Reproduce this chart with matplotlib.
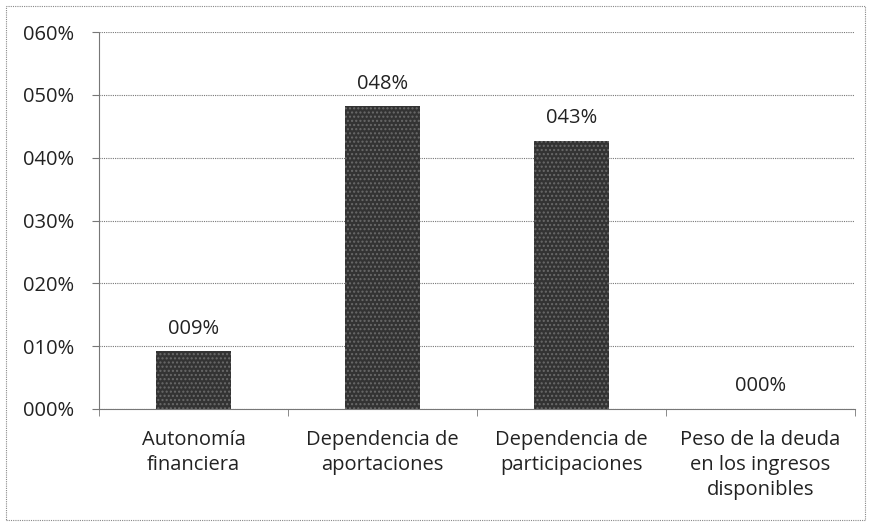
import numpy as np
import matplotlib.pyplot as plt
from matplotlib.patches import Rectangle

plt.rcParams['font.family'] = ['Open Sans', 'DejaVu Sans']

categories = ['Autonomía\nfinanciera', 'Dependencia de\naportaciones',
              'Dependencia de\nparticipaciones', 'Peso de la deuda\nen los ingresos\ndisponibles']
values = [0.092, 0.482, 0.427, 0.0]
yticks = [0.0, 0.1, 0.2, 0.3, 0.4, 0.5, 0.6]

fig = plt.figure(figsize=(8.71, 5.26), dpi=100)
ax = fig.add_axes([99/871, 1 - 409/526, 756/871, 377/526])

x = np.arange(len(categories))
ax.bar(x, values, width=0.4, color='#333333', edgecolor='#6a6a6a',
       hatch='....', linewidth=0, zorder=3)

for xi, v in zip(x, values):
    ax.text(xi, v + 0.02, f"{v*100:03.0f}%", ha='center', va='bottom',
            fontsize=14.5, color='#222222')

ax.set_xlim(-0.5, len(categories) - 0.5)
ax.set_ylim(0, 0.6)
ax.set_yticks(yticks)
ax.set_yticklabels([f"{t*100:03.0f}%" for t in yticks], fontsize=14.5, color='#222222')
ax.yaxis.grid(True, linestyle=(0, (1, 1)), color='#777777', linewidth=0.8)
ax.set_axisbelow(True)

ax.set_xticks(x)
ax.set_xticklabels(categories, fontsize=14.5, color='#222222', linespacing=1.35)
ax.set_xticks(np.arange(-0.5, len(categories)), minor=True)
ax.tick_params(axis='x', which='major', length=0, pad=15)
ax.tick_params(axis='x', which='minor', length=5, color='#777777', direction='out')
ax.tick_params(axis='y', length=5, color='#777777', pad=13)
for label in ax.get_xticklabels():
    label.set_verticalalignment('top')

for s in ['top', 'right']:
    ax.spines[s].set_visible(False)
for s in ['left', 'bottom']:
    ax.spines[s].set_linestyle((0, (1, 1)))
    ax.spines[s].set_color('#777777')
    ax.spines[s].set_linewidth(0.8)

# dotted outer border of the chart area
fig.patches.append(Rectangle((6/871, 6/526), 1 - 12/871, 1 - 12/526,
                             transform=fig.transFigure, fill=False,
                             linestyle=(0, (1, 1)), edgecolor='#888888', linewidth=0.8))

fig.savefig('out.png', dpi=100)
